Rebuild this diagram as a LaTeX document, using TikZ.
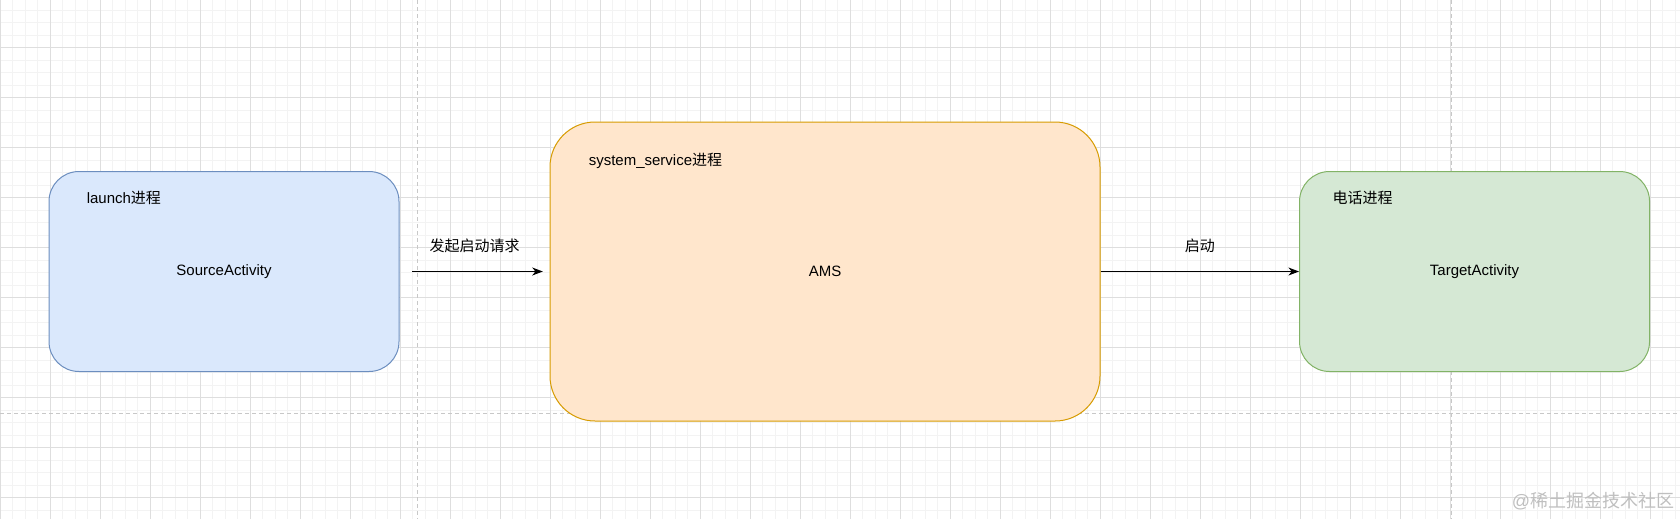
\documentclass[tikz,border=0pt]{standalone}
\usepackage{xcolor}
\usepackage{fontspec}
\setmainfont{Liberation Sans}
\newfontfamily\cjk{Noto Sans CJK SC}
\usepackage{tikz}
\usetikzlibrary{shapes.geometric, arrows.meta, positioning}
\definecolor{srcblue}{RGB}{218,232,252}
\definecolor{srcblueline}{RGB}{108,142,191}
\definecolor{amsorange}{RGB}{255,230,204}
\definecolor{amsorangeline}{RGB}{215,155,0}
\definecolor{tgtgreen}{RGB}{213,232,212}
\definecolor{tgtgreenline}{RGB}{130,179,102}
\definecolor{gridminor}{RGB}{243,243,243}
\definecolor{gridmajor}{RGB}{222,222,222}
\definecolor{pageline}{RGB}{200,200,200}

\begin{document}
\begin{tikzpicture}[x=0.75pt, y=-0.75pt, font=\fontsize{11.25}{13.5}\selectfont]
        \tikzstyle{process} = [rectangle, rounded corners=22.5pt, minimum width=262.5pt, minimum height=150pt, text centered, draw, line width=0.75pt]
        \tikzstyle{title} = [anchor=west, inner sep=0pt]
        \tikzstyle{arrow} = [line width=1pt,->,>={Stealth[length=8pt, width=6pt, inset=2.5pt]}]
        \tikzstyle{pagebreak} = [pageline, line width=0.75pt, dash pattern=on 3pt off 2.25pt]

        \useasboundingbox (0,0) rectangle (1680,519);
        \fill [white] (0,0) rectangle (1680,519);

        % background grid
        \foreach \gx in {0,12.5,...,1680} \draw [gridminor, line width=0.75pt] (\gx,0) -- (\gx,519);
        \foreach \gy in {10.2,22.7,...,519} \draw [gridminor, line width=0.75pt] (0,\gy) -- (1680,\gy);
        \foreach \gx in {0,50,...,1650} \draw [gridmajor, line width=0.75pt] (\gx,0) -- (\gx,519);
        \foreach \gy in {47.7,97.7,...,519} \draw [gridmajor, line width=0.75pt] (0,\gy) -- (1680,\gy);

        % page breaks
        \draw [pagebreak] (417.5,0) -- (417.5,519);
        \draw [pagebreak] (1451,0) -- (1451,519);
        \draw [pagebreak] (0,413) -- (1680,413);

        \node (ams) [process, fill=amsorange, draw=amsorangeline, minimum width=412.5pt, minimum height=224.25pt, rounded corners=33.75pt] at (825,271.5) {AMS};
        \node (source) [process, fill=srcblue, draw=srcblueline, left=112.5pt of ams] {SourceActivity};
        \node (target) [process, fill=tgtgreen, draw=tgtgreenline, right=148.9pt of ams] {TargetActivity};

        \node (srctitle) [title] at ([xshift=28.5pt, yshift=-20pt]source.north west) {launch{\cjk 进程}};
        \node (amstitle) [title] at ([xshift=29.25pt, yshift=-29.25pt]ams.north west) {system\_service{\cjk 进程}};
        \node (tgttitle) [title] at ([xshift=25pt, yshift=-20pt]target.north west) {{\cjk 电话进程}};

        \draw [arrow, shorten <=9.5pt, shorten >=5pt] (source) -- node [yshift=19.5pt] (reqlabel) {{\cjk 发起启动请求}} (ams);
        \draw [arrow] (ams) -- node [yshift=19.5pt] (startlabel) {{\cjk 启动}} (target);

        \node (mark) at (1593,501) {\fontsize{13.5}{16}\selectfont\color{black!25}@{\cjk 稀土掘金技术社区}};
    \end{tikzpicture}
\end{document}
